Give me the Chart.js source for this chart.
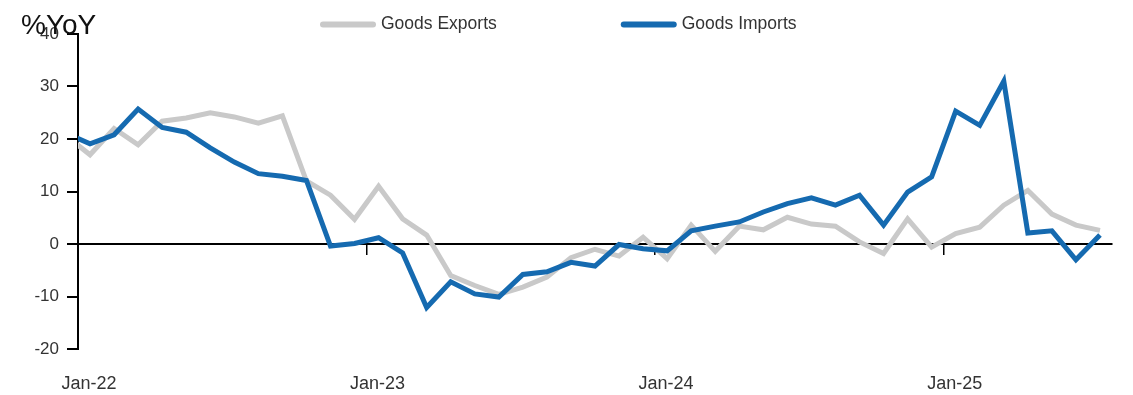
<!DOCTYPE html>
<html>
<head>
<meta charset="utf-8">
<script src="https://cdn.jsdelivr.net/npm/chart.js@4.4.1/dist/chart.umd.min.js"></script>
<style>
  html, body { margin: 0; padding: 0; background: #fff; }
  #wrap { width: 1133px; height: 395px; position: relative; }
</style>
</head>
<body>
<div id="wrap"><canvas id="trade"></canvas></div>
<script>
// monthly, Dec-21 sits just left of the axis so the lines start at the edge
const months = [
  'Dec-21',
  'Jan-22', 'Feb-22', 'Mar-22', 'Apr-22', 'May-22', 'Jun-22', 'Jul-22', 'Aug-22', 'Sep-22', 'Oct-22', 'Nov-22', 'Dec-22',
  'Jan-23', 'Feb-23', 'Mar-23', 'Apr-23', 'May-23', 'Jun-23', 'Jul-23', 'Aug-23', 'Sep-23', 'Oct-23', 'Nov-23', 'Dec-23',
  'Jan-24', 'Feb-24', 'Mar-24', 'Apr-24', 'May-24', 'Jun-24', 'Jul-24', 'Aug-24', 'Sep-24', 'Oct-24', 'Nov-24', 'Dec-24',
  'Jan-25', 'Feb-25', 'Mar-25', 'Apr-25', 'May-25', 'Jun-25', 'Jul-25'
];

const goodsExports = [
  20.6,
  17.0, 22.0, 18.9, 23.4, 24.0, 25.0, 24.2, 23.0, 24.4, 12.0, 9.3, 4.7,
  11.0, 4.8, 1.7, -6.0, -7.9, -9.6, -8.2, -6.3, -2.6, -1.0, -2.3, 1.3,
  -2.8, 3.6, -1.4, 3.4, 2.7, 5.1, 3.8, 3.4, 0.4, -1.8, 4.8, -0.6,
  2.0, 3.2, 7.4, 10.2, 5.7, 3.6, 2.6
];

const goodsImports = [
  21.1,
  19.1, 20.8, 25.7, 22.2, 21.3, 18.3, 15.6, 13.4, 12.9, 12.1, -0.4, 0.1,
  1.2, -1.7, -12.1, -7.2, -9.5, -10.1, -5.8, -5.3, -3.5, -4.2, -0.1, -0.9,
  -1.3, 2.5, 3.4, 4.2, 6.1, 7.7, 8.8, 7.4, 9.3, 3.6, 9.9, 12.8,
  25.3, 22.6, 31.0, 2.1, 2.5, -3.0, 1.7
];

const yearLabels = ['Jan-22', 'Jan-23', 'Jan-24', 'Jan-25'];

// each month is plotted in the middle of its slot; year boundaries every 12 slots
const toPoints = vals => vals.map((v, i) => ({ x: i - 0.5, y: v }));
const nMonths = months.length - 1;
const yearTicks = scale => { scale.ticks = yearLabels.map((_, k) => ({ value: k * 12 })); };

Chart.defaults.font.family = '"Liberation Sans", Arial, sans-serif';
Chart.defaults.color = '#333';

const legendAndTitle = {
  id: 'legendAndTitle',
  afterDraw(chart) {
    const ctx = chart.ctx;
    ctx.save();
    // unit label, top left
    ctx.font = '28px "Liberation Sans", Arial, sans-serif';
    ctx.fillStyle = '#111';
    ctx.textBaseline = 'alphabetic';
    ctx.textAlign = 'left';
    ctx.fillText('%YoY', 21, 34);

    // legend across the top
    ctx.font = '17.5px "Liberation Sans", Arial, sans-serif';
    ctx.textBaseline = 'middle';
    let x = 323;
    const y = 24.5;
    chart.data.datasets.forEach(ds => {
      ctx.strokeStyle = ds.borderColor;
      ctx.lineWidth = 6;
      ctx.lineCap = 'round';
      ctx.beginPath();
      ctx.moveTo(x, y);
      ctx.lineTo(x + 50, y);
      ctx.stroke();
      ctx.fillStyle = '#333';
      ctx.fillText(ds.label, x + 58, y);
      x += 58 + ctx.measureText(ds.label).width + 127;
    });
    ctx.restore();
  }
};

new Chart(document.getElementById('trade'), {
  type: 'line',
  data: {
    datasets: [
      {
        label: 'Goods Exports',
        data: toPoints(goodsExports),
        borderColor: '#c9c9c9',
        borderWidth: 5,
        pointRadius: 0,
        tension: 0,
        order: 2,
        clip: { left: 0, top: 6, right: 6, bottom: 6 }
      },
      {
        label: 'Goods Imports',
        data: toPoints(goodsImports),
        borderColor: '#156ab0',
        borderWidth: 5,
        pointRadius: 0,
        tension: 0,
        order: 1,
        clip: { left: 0, top: 6, right: 6, bottom: 6 }
      }
    ]
  },
  options: {
    responsive: true,
    maintainAspectRatio: false,
    animation: false,
    layout: { padding: { top: 34, right: 21, left: 0, bottom: 0 } },
    plugins: {
      legend: { display: false },
      tooltip: { enabled: false }
    },
    scales: {
      x: {
        type: 'linear',
        position: 'bottom',
        min: 0,
        max: nMonths,
        afterBuildTicks: yearTicks,
        afterFit: s => { s.height = 46; },
        grid: { display: false, drawTicks: false },
        border: { display: false },
        ticks: {
          autoSkip: false,
          maxRotation: 0,
          padding: 24,
          labelOffset: 11,
          font: { size: 18 },
          callback: (v) => yearLabels[Math.round(v / 12)]
        }
      },
      zero: {
        type: 'linear',
        axis: 'x',
        position: { y: 0 },
        min: 0,
        max: nMonths,
        afterBuildTicks: yearTicks,
        grid: { drawOnChartArea: false, drawTicks: true, tickLength: 10, color: '#000', lineWidth: 1.5 },
        border: { display: true, color: '#000', width: 2 },
        ticks: { display: false }
      },
      y: {
        min: -20,
        max: 40,
        afterFit: s => { s.width = 78; },
        grid: { drawOnChartArea: false, drawTicks: true, tickLength: 11, color: '#000', lineWidth: 2 },
        border: { display: true, color: '#000', width: 2 },
        ticks: { stepSize: 10, padding: 8, font: { size: 17 } }
      }
    }
  },
  plugins: [legendAndTitle]
});
</script>
</body>
</html>
